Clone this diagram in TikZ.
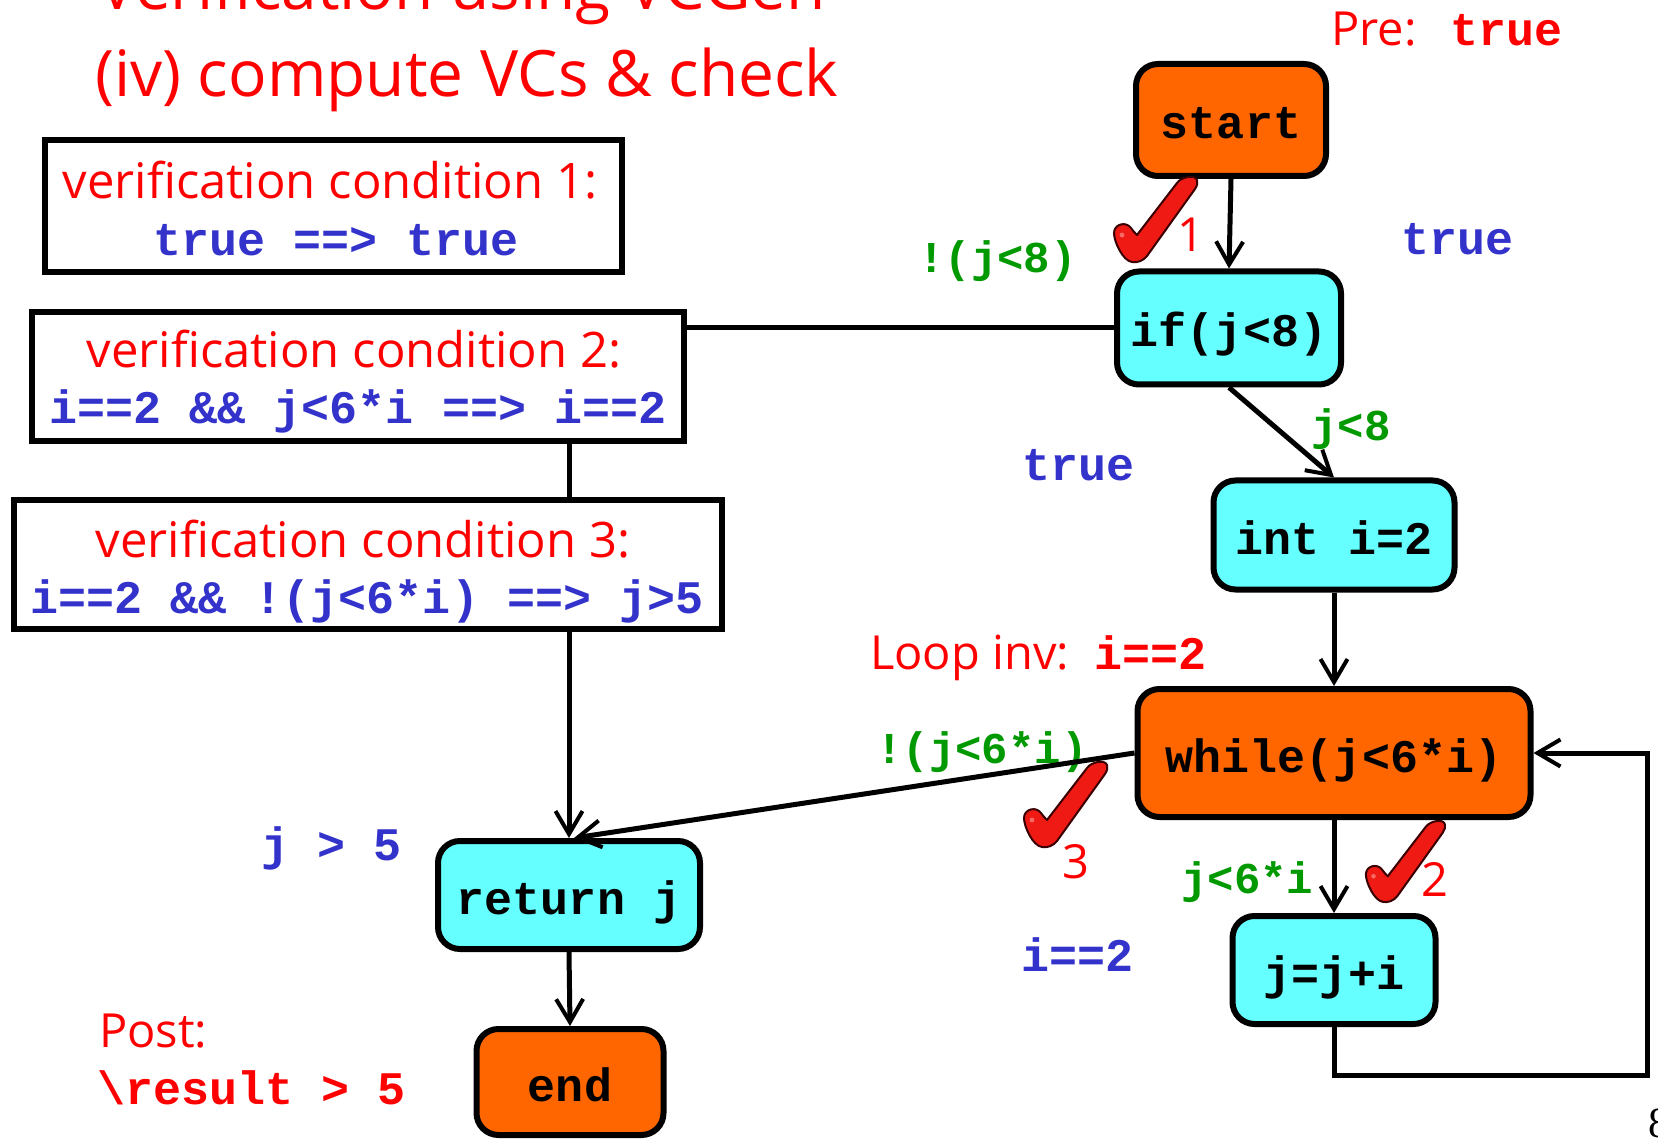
\documentclass[tikz,border=0pt]{standalone}
\usepackage{fontspec}
\usetikzlibrary{arrows.meta}
\newfontfamily\handfont{Open Sans}
\newfontfamily\codefont{Liberation Mono}
\newfontfamily\pagefont{Liberation Serif}
\definecolor{nodeorange}{HTML}{FF6600}
\definecolor{nodecyan}{HTML}{66FFFF}
\definecolor{condblue}{HTML}{3333CC}
\definecolor{guardgreen}{HTML}{009900}
\definecolor{tickred}{HTML}{F01A14}
\definecolor{tickedge}{HTML}{3A0000}
\tikzset{
  flownode/.style={draw=black, line width=6pt, rounded corners=22pt, inner sep=0pt,
    font=\codefont\bfseries\fontsize{46.7}{56}\selectfont, text height=38pt, text depth=0pt},
  startend/.style={flownode, fill=nodeorange},
  stmt/.style={flownode, fill=nodecyan},
  vcframe/.style={draw=black, line width=6.5pt, inner sep=0pt},
  handtext/.style={font=\handfont\fontsize{#1}{#1}\selectfont, text=red, inner sep=0pt},
  monotext/.style={font=\codefont\bfseries\fontsize{46.7}{56}\selectfont, inner sep=0pt},
  guardtext/.style={font=\codefont\bfseries\fontsize{44}{50}\selectfont, text=guardgreen, inner sep=0pt},
  link/.style={line width=5pt},
  flow/.style={link, -{Straight Barb[length=23pt,width=27pt,line width=4pt]}},
  vmark/.pic={
    \filldraw[fill=tickred, draw=tickedge, line width=2pt, line join=round]
      (0,2) .. controls (-9,1) and (-18,-18) .. (-18,-27)
      .. controls (-18,-36) and (-6,-39) .. (-1,-32)
      .. controls (1,-29) and (3,-27) .. (5,-25)
      -- (45,-77)
      .. controls (49,-83) and (63,-86) .. (65,-80)
      .. controls (66,-77) and (65,-74) .. (63,-71)
      -- (15,-4)
      .. controls (11,1) and (5,3) .. (0,2) -- cycle;
    \fill[white, opacity=0.35] (-10,-25) circle (2.4);
  }
}
\begin{document}
\begin{tikzpicture}[x=1pt,y=-1pt]
\useasboundingbox (0,0) rectangle (1658,1139);

% title
\node[handtext=64, anchor=base west] (titleA) at (98,10) {Verification using VCGen};
\node[handtext=64, anchor=base west] (titleB) at (95,97) {(iv) compute VCs \& check};

% verification conditions
\node[vcframe, minimum width=577pt, minimum height=132pt] (vcOne) at (333.5,206) {};
\node[handtext=49, anchor=base] (vcOneHead) at (330,199) {verification condition 1:};
\node[monotext, text=condblue, anchor=base] (vcOneBody) at (336,256) {true ==> true};

\node[vcframe, minimum width=652pt, minimum height=129pt] (vcTwo) at (358,376.5) {};
\node[handtext=49, anchor=base] (vcTwoHead) at (354,368) {verification condition 2:};
\node[monotext, text=condblue, anchor=base] (vcTwoBody) at (358,424) {i==2 \&\& j<6*i ==> i==2};

\node[vcframe, minimum width=708pt, minimum height=129pt] (vcThree) at (368,564.5) {};
\node[handtext=49, anchor=base] (vcThreeHead) at (363,557) {verification condition 3:};
\node[monotext, text=condblue, anchor=base] (vcThreeBody) at (367,613) {i==2 \&\& !(j<6*i) ==> j>5};

% control flow graph
\node[startend, minimum width=190pt, minimum height=112pt] (start) at (1231,120) {start};
\node[stmt, minimum width=224pt, minimum height=113pt] (if) at (1229,328) {if(j<8)};
\node[stmt, minimum width=241pt, minimum height=109pt] (int) at (1334,535) {int i=2};
\node[startend, minimum width=393pt, minimum height=128pt] (while) at (1334,753) {while(j<6*i)};
\node[stmt, minimum width=203pt, minimum height=108pt] (jji) at (1334,970) {j=j+i};
\node[stmt, minimum width=262pt, minimum height=108pt] (ret) at (569,895) {return j};
\node[startend, minimum width=187pt, minimum height=106pt] (endn) at (570,1082) {end};

% annotations
\node[handtext=47, anchor=base west] (pre) at (1331,46) {Pre:};
\node[monotext, text=red, anchor=base west] (preVal) at (1450,46) {true};
\node[monotext, text=condblue, anchor=base west] (trueA) at (1401,255) {true};
\node[guardtext, anchor=base west] (notLess) at (918,273) {!(j<8)};
\node[guardtext, anchor=base west] (less) at (1311,441) {j<8};
\node[monotext, text=condblue, anchor=base west] (trueB) at (1022,481) {true};
\node[handtext=47, anchor=base west] (loopinv) at (870,669) {Loop inv:};
\node[monotext, text=red, anchor=base west] (loopVal) at (1094,669) {i==2};
\node[guardtext, anchor=base west] (exitGuard) at (876,763) {!(j<6*i)};
\node[guardtext, anchor=base west] (bodyGuard) at (1181,893) {j<6*i};
\node[monotext, text=condblue, anchor=base west] (bodyCond) at (1021,971) {i==2};
\node[monotext, text=condblue, anchor=base west] (retCond) at (261,860) {j > 5};
\node[handtext=47, anchor=base west] (post) at (99,1047) {Post:};
\node[monotext, text=red, anchor=base west] (postVal) at (97,1104) {\textbackslash result > 5};
\node[font=\pagefont\fontsize{43}{43}\selectfont, inner sep=0pt, anchor=base west] (pageNo) at (1648,1137) {8};

% connectors
\coordinate (loopR) at (1647,1075);
\draw[flow] (start.south) -- (if.north);
\draw[flow] (if.south) -- (int.north);
\draw[link] (if.west) -- (if.west -| vcTwo.east);
\draw[link] (vcTwo.south -| ret.north) -- (vcThree.north -| ret.north);
\draw[flow] (vcThree.south -| ret.north) -- (ret.north);
\draw[flow] (int.south) -- (while.north);
\draw[flow] (while.west) -- ([xshift=5pt]ret.north);
\draw[flow] (while.south) -- (jji.north);
\draw[flow] (jji.south) |- (loopR) |- (while.east);
\draw[flow] (ret.south) -- (endn.north);

% proof check marks
\pic at (1132,260) {vmark};
\node[handtext=47, anchor=base west] (tickOne) at (1177,252) {1};
\pic at (1042,845) {vmark};
\node[handtext=47, anchor=base west] (tickThree) at (1062,878) {3};
\pic[scale=0.95] at (1383,900) {vmark};
\node[handtext=47, anchor=base west] (tickTwo) at (1421,896) {2};
\end{tikzpicture}
\end{document}
